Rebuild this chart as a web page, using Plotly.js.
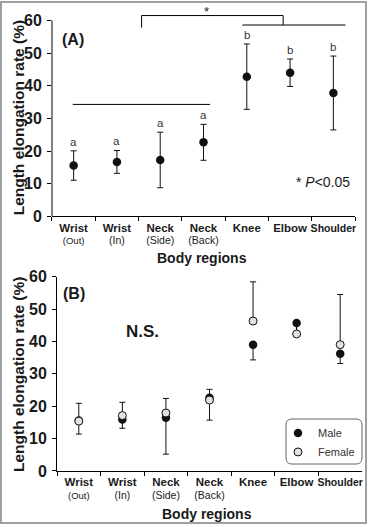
<!DOCTYPE html>
<html>
<head>
<meta charset="utf-8">
<script src="https://cdn.plot.ly/plotly-3.0.1.min.js"></script>
<style>
  html, body { margin: 0; padding: 0; background: #fff; }
  #wrap { position: relative; width: 369px; height: 527px; }
  #plot { position: absolute; left: 0; top: 0; width: 369px; height: 527px; }
  #frame { position: absolute; left: 0px; top: 1px; width: 367px; height: 523px;
           box-sizing: border-box; border: 2px solid #a0a0a0; pointer-events: none; }
</style>
</head>
<body>
<div id="wrap"><div id="plot"></div><div id="frame"></div></div>
<script>
// ---------------- data ----------------
const categories = ['Wrist (Out)', 'Wrist (In)', 'Neck (Side)', 'Neck (Back)', 'Knee', 'Elbow', 'Shoulder'];
const tickLine1 = ['Wrist', 'Wrist', 'Neck', 'Neck', 'Knee', 'Elbow', 'Shoulder'];
const tickLine2 = ['(Out)', '(In)', '(Side)', '(Back)', '', '', ''];
const yTicks = [0, 10, 20, 30, 40, 50, 60];

// Panel A: all subjects (mean, SD) and significance letters
const meanA = [15.6, 16.7, 17.3, 22.7, 42.8, 44.0, 37.8];
const sdA = [4.5, 3.5, 8.5, 5.5, 10.0, 4.2, 11.3];
const lettersA = ['a', 'a', 'a', 'a', 'b', 'b', 'b'];

// Panel B: by sex (male SD drawn downward, female SD drawn upward)
const maleB = [15.6, 15.9, 16.4, 22.6, 39.0, 45.7, 36.2];
const maleSdB = [4.2, 2.7, 11.2, 6.9, 4.7, 3.2, 3.0];
const femaleB = [15.4, 17.1, 17.9, 21.9, 46.3, 42.3, 39.0];
const femaleSdB = [5.5, 4.1, 4.5, 3.3, 12.1, 3.2, 15.5];

// ---------------- build ----------------
const FONT = '"Liberation Sans", Arial, Helvetica, sans-serif';
const INK = '#1a1a1a';
const zeros = categories.map(() => 0);

function tickText(i) {
  const size1 = tickLine1[i] === 'Shoulder' ? 10.5 : 11.5;
  let t = '<b><span style="font-size:' + size1 + 'px">' + tickLine1[i] + '</span></b>';
  if (tickLine2[i]) t += '<br><span style="font-size:' + (tickLine2[i] === '(Out)' ? 9.5 : 10.5) + 'px">' + tickLine2[i] + '</span>';
  return t;
}
const tickTexts = categories.map((c, i) => tickText(i));

const traces = [
  {
    type: 'scatter', mode: 'markers', x: categories, y: meanA, xaxis: 'x', yaxis: 'y',
    showlegend: false,
    marker: { color: '#111', size: 8.5 },
    error_y: { type: 'data', array: sdA, visible: true, color: '#111', thickness: 1, width: 3 }
  },
  {
    type: 'scatter', mode: 'markers', name: 'Male', x: categories, y: maleB, xaxis: 'x2', yaxis: 'y2',
    marker: { color: '#111', size: 8.5 },
    error_y: { type: 'data', symmetric: false, array: zeros, arrayminus: maleSdB, visible: true, color: '#111', thickness: 1, width: 3 }
  },
  {
    type: 'scatter', mode: 'markers', name: 'Female', x: categories, y: femaleB, xaxis: 'x2', yaxis: 'y2',
    marker: { color: '#e2e2e2', size: 8, line: { color: '#111', width: 1 } },
    error_y: { type: 'data', symmetric: false, array: femaleSdB, arrayminus: zeros, visible: true, color: '#111', thickness: 1, width: 3 }
  }
];

function xAxis(domain, anchor) {
  return {
    domain: domain, anchor: anchor, type: 'category', range: [-0.5, 6.5],
    tickmode: 'array', tickvals: categories, ticktext: tickTexts, tickangle: 0,
    tickson: 'boundaries', ticks: 'outside', ticklen: 4, tickwidth: 1, tickcolor: '#000',
    tickfont: { family: FONT, size: 9.5, color: INK },
    ticklabelstandoff: 3,
    showline: true, linecolor: '#000', linewidth: 1,
    showgrid: false, zeroline: false, fixedrange: true
  };
}
function yAxis(domain, anchor, range, showline) {
  return {
    domain: domain, anchor: anchor, range: range,
    tickmode: 'array', tickvals: yTicks,
    ticks: 'outside', ticklen: 4, tickwidth: 1, tickcolor: '#000',
    tickfont: { family: FONT, size: 16, color: INK, weight: 'bold' },
    ticklabelstandoff: 2,
    showline: showline, linecolor: '#000', linewidth: 1,
    showgrid: false, zeroline: false, fixedrange: true
  };
}

const annotations = [];
// significance letters in A
categories.forEach((c, i) => {
  annotations.push({
    x: i, y: meanA[i] + sdA[i], xref: 'x', yref: 'y', text: lettersA[i],
    showarrow: false, yanchor: 'bottom', xanchor: 'center', yshift: 1,
    font: { family: FONT, size: 11.5, color: '#333' }
  });
});
function paperText(text, x, y, size, bold, extra) {
  return Object.assign({
    text: bold ? '<b>' + text + '</b>' : text, x: x, y: y, xref: 'paper', yref: 'paper',
    showarrow: false, xanchor: 'center', yanchor: 'middle',
    font: { family: FONT, size: size, color: INK }
  }, extra || {});
}
annotations.push(paperText('(A)', 0.1965, 0.9241, 16, true));
annotations.push(paperText('(B)', 0.2005, 0.4434, 16, true));
annotations.push(paperText('N.S.', 0.3867, 0.3706, 17, true));
annotations.push(paperText('* <i>P</i>&lt;0.05', 0.8753, 0.6552, 14, false));
annotations.push({ text: '*', x: 3.07, y: 61.5, xref: 'x', yref: 'y', showarrow: false,
  xanchor: 'center', yanchor: 'middle', yshift: 4, font: { family: FONT, size: 13, color: INK } });
// axis titles
annotations.push(paperText('Length elongation rate (%)', 0.0488, 0.7755, 15.5, true, { textangle: -90 }));
annotations.push(paperText('Body regions', 0.5474, 0.5104, 14, true));
annotations.push(paperText('Length elongation rate (%)', 0.0488, 0.2884, 15.5, true, { textangle: -90 }));
annotations.push(paperText('Body regions', 0.5618, 0.0247, 14, true));

const line = { color: '#000', width: 1 };
const shapes = [
  // y-axis line of panel A (0 to 60)
  { type: 'line', xref: 'x domain', yref: 'y', x0: 0, x1: 0, y0: 0, y1: 60, line: line },
  // group "a" line
  { type: 'line', xref: 'x', yref: 'y', x0: -0.02, x1: 3.15, y0: 34.3, y1: 34.3, line: line },
  // group "b" line
  { type: 'line', xref: 'x', yref: 'y', x0: 3.9, x1: 6.28, y0: 58.6, y1: 58.6, line: line },
  // significance bracket
  { type: 'path', xref: 'x', yref: 'y', path: 'M 1.57 57.8 L 1.57 61.5 L 4.84 61.5 L 4.84 58.6', line: line },
];
// rounded legend box (panel B)
(function () {
  const x0 = 0.7751, x1 = 0.9810, y0 = 0.1195, y1 = 0.2049, rx = 0.0163, ry = 0.0114;
  const p = 'M ' + (x0 + rx) + ' ' + y0 + ' L ' + (x1 - rx) + ' ' + y0 + ' Q ' + x1 + ' ' + y0 + ' ' + x1 + ' ' + (y0 + ry) +
    ' L ' + x1 + ' ' + (y1 - ry) + ' Q ' + x1 + ' ' + y1 + ' ' + (x1 - rx) + ' ' + y1 +
    ' L ' + (x0 + rx) + ' ' + y1 + ' Q ' + x0 + ' ' + y1 + ' ' + x0 + ' ' + (y1 - ry) +
    ' L ' + x0 + ' ' + (y0 + ry) + ' Q ' + x0 + ' ' + y0 + ' ' + (x0 + rx) + ' ' + y0 + ' Z';
  shapes.push({ type: 'path', xref: 'paper', yref: 'paper', path: p, line: { color: '#666', width: 1 } });
})();

const layout = {
  width: 369, height: 527,
  margin: { l: 0, r: 0, t: 0, b: 0 },
  paper_bgcolor: 'rgba(0,0,0,0)', plot_bgcolor: 'rgba(0,0,0,0)',
  font: { family: FONT, color: INK },
  xaxis: xAxis([0.1409, 0.9621], 'y'),
  yaxis: yAxis([0.5892, 0.9767], 'x', [0, 62.5], false),
  xaxis2: xAxis([0.1545, 0.9810], 'y2'),
  yaxis2: yAxis([0.1063, 0.4750], 'x2', [0, 60], true),
  showlegend: true,
  legend: {
    x: 0.7534, y: 0.2060, xanchor: 'left', yanchor: 'top',
    bgcolor: 'rgba(0,0,0,0)', borderwidth: 0,
    font: { family: FONT, size: 11, color: '#333' },
    itemwidth: 30, tracegroupgap: 0
  },
  annotations: annotations,
  shapes: shapes
};

Plotly.newPlot('plot', traces, layout, { staticPlot: true, displayModeBar: false });
</script>
</body>
</html>
